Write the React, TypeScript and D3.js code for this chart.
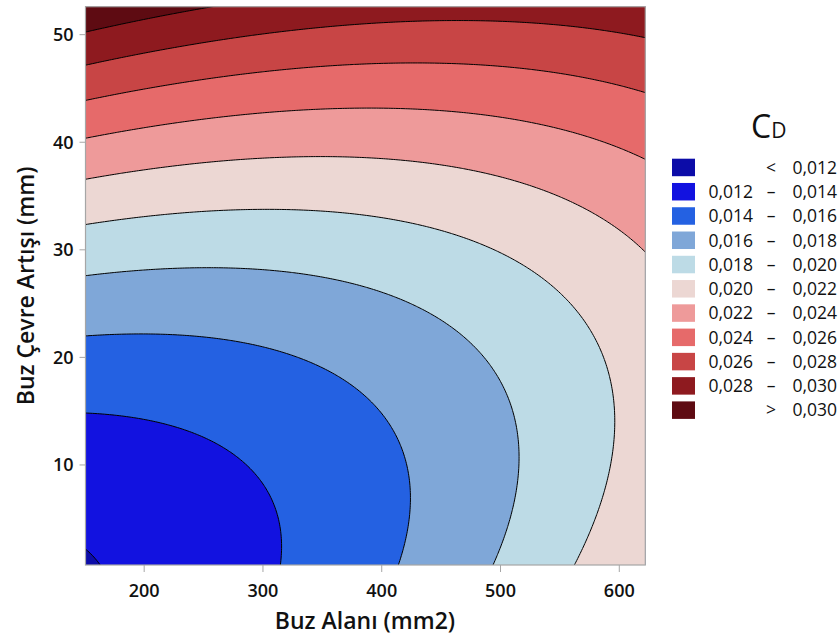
import React from "react";
import * as d3 from "d3";

const width = 840;
const height = 637;

// axis ranges
const areaRange = [150.6, 621.9];
const perimRange = [0.7, 52.6];
const xTicks = [200, 300, 400, 500, 600];
const yTicks = [10, 20, 30, 40, 50];

// fitted quadratic response surface: const, x, x², y, y², xy
const coefNames = ["b0", "bx", "bxx", "by", "byy", "bxy"];
const coefValues = [0.011177, 3.135e-7, 2.769e-8, 1.3055e-4, 6.11e-6, -5.07e-7];

const thresholds = [0.012, 0.014, 0.016, 0.018, 0.02, 0.022, 0.024, 0.026, 0.028, 0.03];
const colors = [
  "#0c0ca8", "#1212e0", "#2461e2", "#7fa7d8", "#bddbe6", "#ecd7d3",
  "#ee9a9a", "#e66a6a", "#c84545", "#8e1a1f", "#5e0b12"
];
const legendLabels = [
  ["", "<", "0,012"],
  ["0,012", "–", "0,014"],
  ["0,014", "–", "0,016"],
  ["0,016", "–", "0,018"],
  ["0,018", "–", "0,020"],
  ["0,020", "–", "0,022"],
  ["0,022", "–", "0,024"],
  ["0,024", "–", "0,026"],
  ["0,026", "–", "0,028"],
  ["0,028", "–", "0,030"],
  ["", ">", "0,030"]
];

const coef: Record<string, number> = {};
coefNames.forEach((n, i) => (coef[n] = coefValues[i]));
const cd = (x: number, y: number) =>
  coef.b0 + coef.bx * x + coef.bxx * x * x + coef.by * y + coef.byy * y * y + coef.bxy * x * y;

const font = "'Open Sans', 'Noto Sans', sans-serif";

export default function App() {
  const xScale = d3.scaleLinear().domain(areaRange).range([85.5, 645.3]);
  const yScale = d3.scaleLinear().domain(perimRange).range([565, 6.7]);

  // grid a bit larger than the plot, clipped afterwards so borders get no stroke
  const n = 240, m = 240;
  const padX = (areaRange[1] - areaRange[0]) * 0.02;
  const padY = (perimRange[1] - perimRange[0]) * 0.02;
  const gx = d3.scaleLinear().domain([0, n]).range([areaRange[0] - padX, areaRange[1] + padX]);
  const gy = d3.scaleLinear().domain([0, m]).range([perimRange[1] + padY, perimRange[0] - padY]);
  const values = new Array(n * m);
  for (let j = 0; j < m; j++)
    for (let i = 0; i < n; i++) values[j * n + i] = cd(gx(i + 0.5), gy(j + 0.5));

  const contours = d3.contours().size([n, m]).thresholds(thresholds)(values);
  const path = d3.geoPath(
    d3.geoTransform({
      point(px, py) {
        this.stream.point(xScale(gx(px)), yScale(gy(py)));
      }
    })
  );

  const left = xScale(areaRange[0]), right = xScale(areaRange[1]);
  const top = yScale(perimRange[1]), bottom = yScale(perimRange[0]);

  return (
    <svg width={width} height={height} style={{ position: "absolute", left: 0, top: 0 }}>
      <defs>
        <clipPath id="plot">
          <rect x={left} y={top} width={right - left} height={bottom - top} />
        </clipPath>
      </defs>
      <rect width={width} height={height} fill="#fff" />
      <g clipPath="url(#plot)">
        <rect x={left} y={top} width={right - left} height={bottom - top} fill={colors[0]} />
        {contours.map((c, i) => (
          <path key={i} d={path(c as any) || ""} fill={colors[i + 1]} stroke="#000" strokeWidth={1} />
        ))}
      </g>
      <rect x={left} y={top} width={right - left} height={bottom - top} fill="none" stroke="#a6a6a6" strokeWidth={1.2} />

      {xTicks.map(t => (
        <g key={t} transform={`translate(${xScale(t)},${bottom})`}>
          <line y1={0} y2={7} stroke="#a6a6a6" />
          <text y={32} textAnchor="middle" fontFamily={font} fontSize={18} fontWeight={600} fill="#111">{t}</text>
        </g>
      ))}
      {yTicks.map(t => (
        <g key={t} transform={`translate(${left},${yScale(t)})`}>
          <line x1={0} x2={-6} stroke="#a6a6a6" />
          <text x={-12} dy="0.35em" textAnchor="end" fontFamily={font} fontSize={18} fontWeight={600} fill="#111">{t}</text>
        </g>
      ))}
      <text x={365} y={629} textAnchor="middle" fontFamily={font} fontSize={23} fontWeight={600} fill="#111">
        Buz Alanı (mm2)
      </text>
      <text transform={`translate(34,${(top + bottom) / 2}) rotate(-90)`} textAnchor="middle" fontFamily={font} fontSize={23} fontWeight={600} fill="#111">
        Buz Çevre Artışı (mm)
      </text>

      <text x={751} y={138} fontFamily={font} fill="#111">
        <tspan fontSize={32}>C</tspan>
        <tspan fontSize={21}>D</tspan>
      </text>
      {legendLabels.map((l, i) => {
        const yy = 158.7 + i * 24.27;
        return (
          <g key={i}>
            <rect x={672} y={yy} width={23} height={17.5} fill={colors[i]} />
            <text x={753} y={yy + 15} textAnchor="end" fontFamily={font} fontSize={17.5} fill="#111">{l[0]}</text>
            <text x={771} y={yy + 15} textAnchor="middle" fontFamily={font} fontSize={17.5} fill="#111">{l[1]}</text>
            <text x={837} y={yy + 15} textAnchor="end" fontFamily={font} fontSize={17.5} fill="#111">{l[2]}</text>
          </g>
        );
      })}
    </svg>
  );
}
